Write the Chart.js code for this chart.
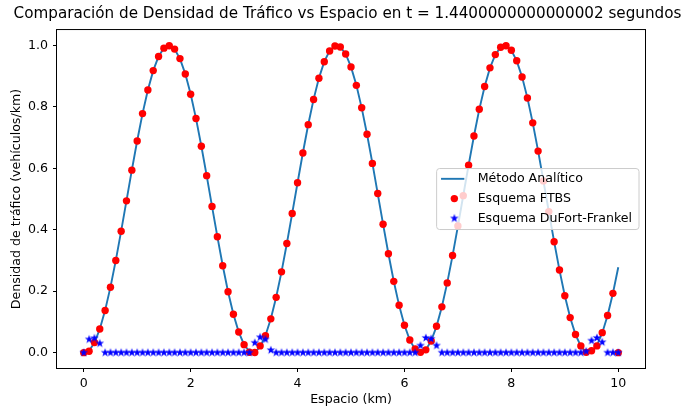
<!DOCTYPE html>
<html>
<head>
<meta charset="utf-8">
<script src="https://cdn.jsdelivr.net/npm/chart.js@4.4.0/dist/chart.umd.min.js"></script>
<style>
  html, body { margin: 0; padding: 0; background: #fff; }
  #wrap { width: 687px; height: 411px; }
</style>
</head>
<body>
<div id="wrap"><canvas id="myChart" width="687" height="411"></canvas></div>
<script>
// datos (x en km, densidad en vehiculos/km)
const espacio = [
  0.0, 0.1, 0.2, 0.3, 0.4, 0.5, 0.6, 0.7, 0.8, 0.9,
  1.0, 1.1, 1.2, 1.3, 1.4, 1.5, 1.6, 1.7, 1.8, 1.9,
  2.0, 2.1, 2.2, 2.3, 2.4, 2.5, 2.6, 2.7, 2.8, 2.9,
  3.0, 3.1, 3.2, 3.3, 3.4, 3.5, 3.6, 3.7, 3.8, 3.9,
  4.0, 4.1, 4.2, 4.3, 4.4, 4.5, 4.6, 4.7, 4.8, 4.9,
  5.0, 5.1, 5.2, 5.3, 5.4, 5.5, 5.6, 5.7, 5.8, 5.9,
  6.0, 6.1, 6.2, 6.3, 6.4, 6.5, 6.6, 6.7, 6.8, 6.9,
  7.0, 7.1, 7.2, 7.3, 7.4, 7.5, 7.6, 7.7, 7.8, 7.9,
  8.0, 8.1, 8.2, 8.3, 8.4, 8.5, 8.6, 8.7, 8.8, 8.9,
  9.0, 9.1, 9.2, 9.3, 9.4, 9.5, 9.6, 9.7, 9.8, 9.9,
  10.0
];

const analitico = [
  0.0004, 0.0064, 0.0321, 0.0764, 0.1376, 0.2132, 0.3003, 0.3954, 0.4946, 0.5940,
  0.6897, 0.7781, 0.8549, 0.9178, 0.9640, 0.9918, 0.9999, 0.9881, 0.9568, 0.9075,
  0.8417, 0.7624, 0.6726, 0.5759, 0.4762, 0.3775, 0.2836, 0.1984, 0.1252, 0.0669,
  0.0259, 0.0038, 0.0015, 0.0190, 0.0558, 0.1102, 0.1802, 0.2630, 0.3552, 0.4531,
  0.5530, 0.6507, 0.7424, 0.8244, 0.8936, 0.9470, 0.9826, 0.9990, 0.9954, 0.9721,
  0.9301, 0.8709, 0.7968, 0.7110, 0.6167, 0.5178, 0.4181, 0.3218, 0.2325, 0.1539,
  0.0891, 0.0407, 0.0106, 0.0000, 0.0093, 0.0382, 0.0855, 0.1494, 0.2272, 0.3158,
  0.4119, 0.5114, 0.6105, 0.7052, 0.7917, 0.8665, 0.9268, 0.9700, 0.9945, 0.9993,
  0.9842, 0.9498, 0.8976, 0.8292, 0.7480, 0.6567, 0.5593, 0.4594, 0.3612, 0.2686,
  0.1851, 0.1142, 0.0587, 0.0208, 0.0020, 0.0030, 0.0239, 0.0638, 0.1210, 0.1934,
  0.2780
];

const ftbs = [
  0.0000, 0.0045, 0.0330, 0.0770, 0.1370, 0.2130, 0.3000, 0.3950, 0.4940, 0.5940,
  0.6890, 0.7780, 0.8550, 0.9180, 0.9640, 0.9910, 0.9990, 0.9880, 0.9570, 0.9070,
  0.8410, 0.7620, 0.6720, 0.5760, 0.4760, 0.3770, 0.2830, 0.1980, 0.1250, 0.0670,
  0.0260, 0.0012, 0.0005, 0.0220, 0.0550, 0.1100, 0.1800, 0.2630, 0.3550, 0.4530,
  0.5530, 0.6500, 0.7420, 0.8240, 0.8930, 0.9470, 0.9820, 0.9980, 0.9950, 0.9720,
  0.9300, 0.8700, 0.7970, 0.7110, 0.6160, 0.5180, 0.4180, 0.3220, 0.2320, 0.1540,
  0.0890, 0.0410, 0.0120, 0.0010, 0.0090, 0.0380, 0.0860, 0.1490, 0.2270, 0.3160,
  0.4120, 0.5110, 0.6100, 0.7050, 0.7920, 0.8660, 0.9270, 0.9700, 0.9940, 0.9990,
  0.9840, 0.9500, 0.8970, 0.8290, 0.7480, 0.6560, 0.5590, 0.4590, 0.3610, 0.2690,
  0.1850, 0.1140, 0.0590, 0.0220, 0.0010, 0.0060, 0.0220, 0.0650, 0.1210, 0.1930,
  0.0000
];

const dufort = [
  0, 0.043, 0.047, 0.030, 0, 0, 0, 0, 0, 0,
  0, 0, 0, 0, 0, 0, 0, 0, 0, 0,
  0, 0, 0, 0, 0, 0, 0, 0, 0, 0,
  0, 0, 0.032, 0.050, 0.043, 0.008, 0, 0, 0, 0,
  0, 0, 0, 0, 0, 0, 0, 0, 0, 0,
  0, 0, 0, 0, 0, 0, 0, 0, 0, 0,
  0, 0, 0, 0.023, 0.048, 0.045, 0.023, 0, 0, 0,
  0, 0, 0, 0, 0, 0, 0, 0, 0, 0,
  0, 0, 0, 0, 0, 0, 0, 0, 0, 0,
  0, 0, 0, 0, 0.004, 0.039, 0.048, 0.034, 0, 0,
  0
];

const xTicks = [0, 2, 4, 6, 8, 10];
const yTicks = [0.0, 0.2, 0.4, 0.6, 0.8, 1.0];
const titulo = "Comparación de Densidad de Tráfico vs Espacio en t = 1.4400000000000002 segundos";

const FAMILY = "'DejaVu Sans', sans-serif";
const tickFont = { family: FAMILY, size: 12.6 };

// estrella rellena tipo marcador '*' de matplotlib
const estrella = (() => {
  const c = document.createElement("canvas");
  c.width = 12;
  c.height = 12;
  const g = c.getContext("2d");
  g.fillStyle = "#0000ff";
  g.beginPath();
  for (let k = 0; k < 10; k++) {
    const r = k % 2 === 0 ? 4.5 : 1.8;
    const a = -Math.PI / 2 + (k * Math.PI) / 5;
    const px = 6 + r * Math.cos(a);
    const py = 6 + r * Math.sin(a);
    if (k === 0) g.moveTo(px, py);
    else g.lineTo(px, py);
  }
  g.closePath();
  g.fill();
  return c;
})();

const puntos = (ys) => espacio.map((x, i) => ({ x: x, y: ys[i] }));

// marco completo de los ejes
const marco = {
  id: "marco",
  afterDatasetsDraw(chart) {
    const { ctx, chartArea: a } = chart;
    ctx.save();
    ctx.strokeStyle = "#000";
    ctx.lineWidth = 1;
    ctx.strokeRect(a.left - 0.5, a.top - 0.5, a.right - a.left + 1, a.bottom - a.top + 1);
    ctx.restore();
  }
};

// leyenda dentro del area, a la derecha y centrada verticalmente
const leyenda = {
  id: "leyenda",
  afterDraw(chart) {
    const { ctx, chartArea: a } = chart;
    const sets = chart.data.datasets;
    ctx.save();
    ctx.font = "12.6px " + FAMILY;
    const textW = Math.max(...sets.map((d) => ctx.measureText(d.label).width));
    const w = 41 + textW + 7;
    const h = 61;
    const left = a.right - 6 - w;
    const top = (a.top + a.bottom) / 2 - h / 2;
    const r = 3;
    ctx.beginPath();
    ctx.moveTo(left + r, top);
    ctx.arcTo(left + w, top, left + w, top + h, r);
    ctx.arcTo(left + w, top + h, left, top + h, r);
    ctx.arcTo(left, top + h, left, top, r);
    ctx.arcTo(left, top, left + w, top, r);
    ctx.closePath();
    ctx.fillStyle = "rgba(255,255,255,0.8)";
    ctx.fill();
    ctx.strokeStyle = "#cccccc";
    ctx.lineWidth = 1;
    ctx.stroke();

    sets.forEach((d, i) => {
      const cy = top + 10.3 + i * 19.8;
      const mx = left + 17.7;
      if (d.showLine) {
        ctx.strokeStyle = d.borderColor;
        ctx.lineWidth = d.borderWidth;
        ctx.beginPath();
        ctx.moveTo(left + 4.4, cy);
        ctx.lineTo(left + 27.7, cy);
        ctx.stroke();
      } else if (d.pointStyle === estrella) {
        ctx.drawImage(estrella, mx - 6, cy - 6);
      } else {
        ctx.fillStyle = d.backgroundColor;
        ctx.beginPath();
        ctx.arc(mx, cy, d.pointRadius, 0, Math.PI * 2);
        ctx.fill();
      }
      ctx.fillStyle = "#000";
      ctx.textBaseline = "middle";
      ctx.textAlign = "left";
      ctx.fillText(d.label, left + 41, cy);
    });
    ctx.restore();
  }
};

const data = {
  datasets: [
    {
      label: "Método Analítico",
      data: puntos(analitico),
      showLine: true,
      borderColor: "#1f77b4",
      backgroundColor: "#1f77b4",
      borderWidth: 1.9,
      pointRadius: 0,
      order: 3
    },
    {
      label: "Esquema FTBS",
      data: puntos(ftbs),
      showLine: false,
      backgroundColor: "#ff0000",
      borderColor: "#ff0000",
      borderWidth: 0,
      pointRadius: 3.7,
      order: 2
    },
    {
      label: "Esquema DuFort-Frankel",
      data: puntos(dufort),
      showLine: false,
      pointStyle: estrella,
      backgroundColor: "#0000ff",
      borderColor: "#0000ff",
      pointRadius: 5,
      order: 1
    }
  ]
};

const config = {
  type: "scatter",
  data: data,
  plugins: [marco, leyenda],
  options: {
    responsive: false,
    animation: false,
    events: [],
    layout: { padding: { left: 8, right: 0, top: 0, bottom: 0 } },
    plugins: {
      legend: { display: false },
      tooltip: { enabled: false },
      title: {
        display: true,
        text: titulo,
        color: "#000",
        font: { family: FAMILY, size: 15.2, weight: "normal" },
        padding: { top: 5, bottom: 6.8 }
      }
    },
    scales: {
      x: {
        type: "linear",
        position: "bottom",
        min: -0.5,
        max: 10.5,
        afterBuildTicks: (s) => { s.ticks = xTicks.map((v) => ({ value: v })); },
        afterFit: (s) => { s.height = 43; },
        ticks: { font: tickFont, color: "#000", padding: 4, maxRotation: 0, autoSkip: false,
                 callback: (v) => String(v) },
        grid: { display: true, drawOnChartArea: false, drawTicks: true, tickLength: 4, color: "#000" },
        border: { display: false },
        title: { display: true, text: "Espacio (km)", color: "#000", font: tickFont,
                 padding: { top: 0, bottom: 3.4 } }
      },
      y: {
        type: "linear",
        position: "left",
        min: -0.05,
        max: 1.05,
        afterBuildTicks: (s) => { s.ticks = yTicks.map((v) => ({ value: v })); },
        afterFit: (s) => { s.width = 49; },
        ticks: { font: tickFont, color: "#000", padding: 5, autoSkip: false,
                 callback: (v) => v.toFixed(1) },
        grid: { display: true, drawOnChartArea: false, drawTicks: true, tickLength: 4, color: "#000" },
        border: { display: false },
        title: { display: true, text: "Densidad de tráfico (vehículos/km)", color: "#000", font: tickFont,
                 padding: { top: 1.2, bottom: 0 } }
      },
      margen: {
        type: "linear",
        position: "right",
        display: true,
        afterFit: (s) => { s.width = 42; },
        ticks: { display: false },
        grid: { display: false },
        border: { display: false }
      }
    }
  }
};

const myChart = new Chart(document.getElementById("myChart"), config);
</script>
</body>
</html>
